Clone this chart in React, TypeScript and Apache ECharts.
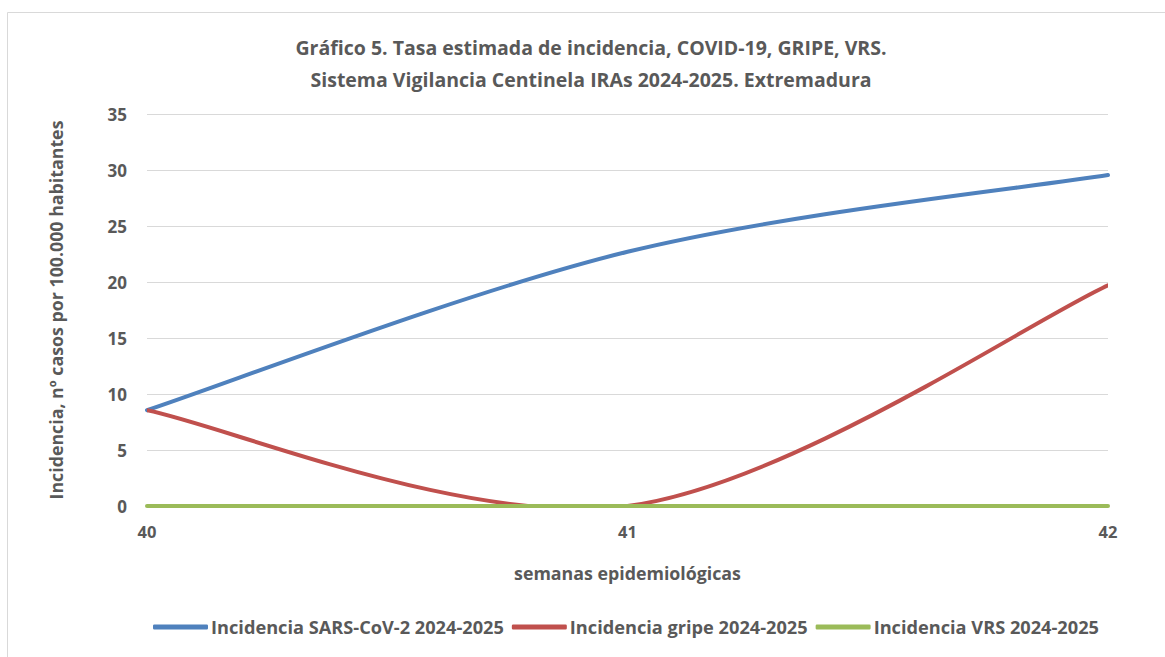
import React, { useEffect, useRef } from "react";
import * as echarts from "echarts";

const weeks = ["40", "41", "42"];
const sarsCov2 = [8.55, 22.7, 29.55];
const gripe = [8.55, 0, 19.7];
const vrs = [0, 0, 0];
const seriesNames = [
  "Incidencia SARS-CoV-2 2024-2025",
  "Incidencia gripe 2024-2025",
  "Incidencia VRS 2024-2025",
];
const colors = ["#4F81BD", "#C0504D", "#9BBB59"];
const titleText =
  "Gráfico 5. Tasa estimada de incidencia, COVID-19, GRIPE, VRS.\nSistema Vigilancia Centinela IRAs 2024-2025. Extremadura";

const FONT = "'Open Sans', sans-serif";
const GRAY = "#595959";

// Excel-like smoothed line (Catmull-Rom as cubic Béziers), positioned via the axes' coords
function smoothRenderer(values: number[], color: string) {
  return (params: any, api: any) => {
    if (params.dataIndex !== 0) return null;
    const pts = values.map((v, i) => api.coord([i, v]));
    const n = pts.length;
    const P = (k: number) => pts[Math.max(0, Math.min(n - 1, k))];
    let d = `M${pts[0][0]},${pts[0][1]}`;
    for (let i = 0; i < n - 1; i++) {
      const p0 = P(i - 1), p1 = P(i), p2 = P(i + 1), p3 = P(i + 2);
      const c1 = [p1[0] + (p2[0] - p0[0]) / 6, p1[1] + (p2[1] - p0[1]) / 6];
      const c2 = [p2[0] - (p3[0] - p1[0]) / 6, p2[1] - (p3[1] - p1[1]) / 6];
      d += ` C${c1[0]},${c1[1]} ${c2[0]},${c2[1]} ${p2[0]},${p2[1]}`;
    }
    return {
      type: "path",
      shape: { pathData: d },
      style: { fill: "none", stroke: color, lineWidth: 4, lineCap: "round", lineJoin: "round" },
    };
  };
}

export default function App() {
  const ref = useRef<HTMLDivElement>(null);
  useEffect(() => {
    if (!ref.current) return;
    const chart = echarts.init(ref.current, null, { renderer: "svg" });
    const data = [sarsCov2, gripe, vrs];
    chart.setOption({
      animation: false,
      backgroundColor: "#ffffff",
      textStyle: { fontFamily: FONT },
      title: {
        text: titleText,
        left: 586,
        top: 26,
        textAlign: "center",
        textStyle: {
          fontFamily: FONT,
          fontWeight: "bold",
          fontSize: 19.5,
          color: GRAY,
          lineHeight: 32,
        },
      },
      graphic: [
        {
          type: "rect",
          shape: { x: 7.5, y: 12.5, width: 1170, height: 660 },
          style: { fill: "none", stroke: "#d9d9d9", lineWidth: 1 },
          silent: true,
        },
      ],
      legend: {
        bottom: 16,
        left: 148,
        itemWidth: 55,
        itemHeight: 5,
        itemGap: 8,
        icon: "roundRect",
        data: seriesNames.map((name, i) => ({ name, itemStyle: { color: colors[i] } })),
        textStyle: {
          fontFamily: FONT,
          fontWeight: "bold",
          fontSize: 18.2,
          color: GRAY,
          padding: [0, 0, 0, -2],
        },
      },
      grid: { left: 147, right: 57, top: 114, bottom: 151 },
      xAxis: {
        type: "category",
        data: weeks,
        boundaryGap: false,
        name: "semanas epidemiológicas",
        nameLocation: "middle",
        nameGap: 58,
        nameTextStyle: {
          fontFamily: FONT,
          fontWeight: "bold",
          fontSize: 17.8,
          color: GRAY,
        },
        axisLine: { show: false },
        axisTick: { show: false },
        axisLabel: {
          fontFamily: FONT,
          fontWeight: "bold",
          fontSize: 16.5,
          color: GRAY,
          margin: 17,
        },
      },
      yAxis: {
        type: "value",
        min: 0,
        max: 35,
        interval: 5,
        name: "Incidencia, nº casos por 100.000 habitantes",
        nameLocation: "middle",
        nameGap: 82,
        nameTextStyle: {
          fontFamily: FONT,
          fontWeight: "bold",
          fontSize: 17.8,
          color: GRAY,
        },
        axisLine: { show: false },
        axisTick: { show: false },
        splitLine: { lineStyle: { color: "#d9d9d9", width: 1 } },
        axisLabel: {
          fontFamily: FONT,
          fontWeight: "bold",
          fontSize: 17,
          color: GRAY,
          margin: 20,
        },
      },
      series: seriesNames.map((name, i) => ({
        name,
        type: "custom",
        clip: i === 1,
        data: data[i].map((v, j) => [j, v]),
        encode: { x: 0, y: 1 },
        itemStyle: { color: colors[i] },
        renderItem: smoothRenderer(data[i], colors[i]),
      })),
    });
    return () => chart.dispose();
  }, []);
  return (
    <div
      ref={ref}
      style={{ position: "fixed", left: 0, top: 0, width: 1165, height: 657 }}
    />
  );
}
